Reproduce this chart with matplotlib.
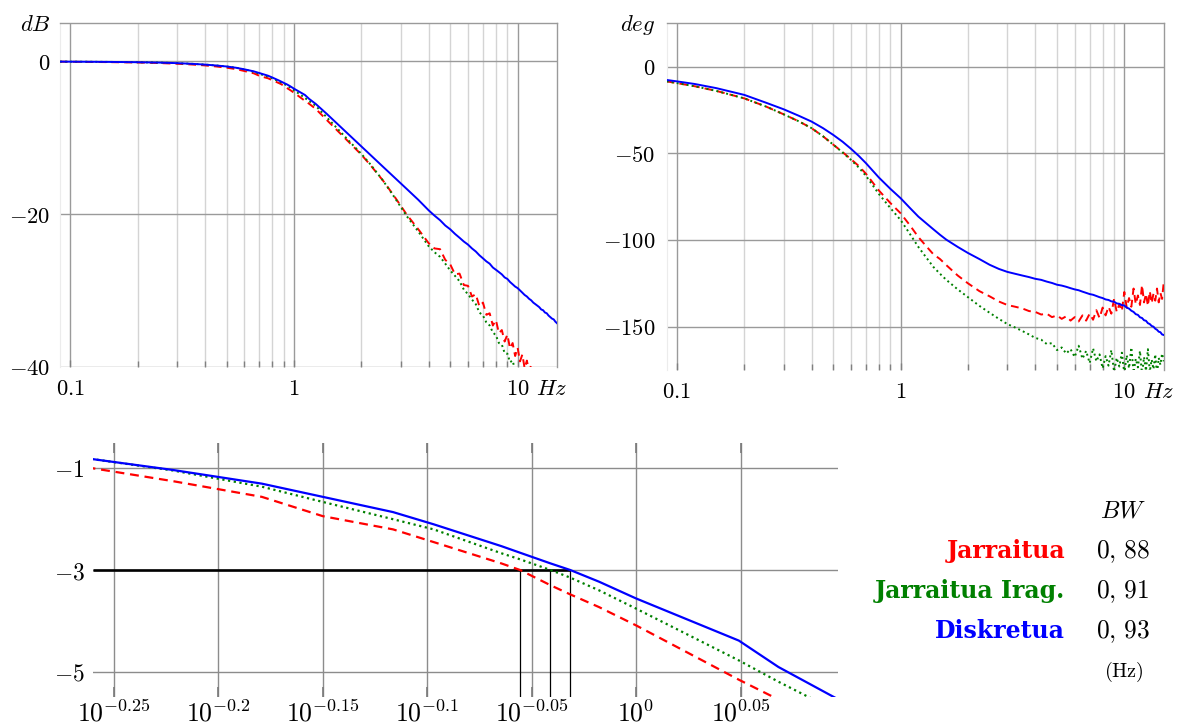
import numpy as np
import matplotlib
matplotlib.use("Agg")
import matplotlib.pyplot as plt
from matplotlib.ticker import FixedLocator, NullFormatter

plt.rcParams["mathtext.fontset"] = "cm"
plt.rcParams["font.family"] = ["DejaVu Serif"]

# ---------------- data ----------------
# magnitude response (dB) on a common frequency grid (Hz)
f_mag = [0.09, 0.1, 0.12, 0.15, 0.2, 0.25, 0.3, 0.35, 0.4, 0.45,
         0.5, 0.55, 0.6, 0.662, 0.708, 0.765, 0.8, 0.862, 0.88, 0.91,
         0.93, 0.96, 1.0, 1.12, 1.17, 1.25, 1.4, 1.6, 1.8, 2.0,
         2.2, 2.5, 2.8, 3.2, 3.6,
         4.0, 4.25, 4.5, 4.75, 5.0, 5.25, 5.5, 5.75, 6.0, 6.25,
         6.5, 6.75, 7.0, 7.25, 7.5, 7.75, 8.0, 8.25, 8.5, 8.75,
         9.0, 9.25, 9.5, 9.75, 10.0, 10.25, 10.5, 10.75, 11.0, 11.25,
         11.5, 11.75, 12.0, 12.25, 12.5, 12.75, 13.0, 13.25, 13.5, 13.75,
         14.0, 14.25, 14.5, 14.75, 15.0]

mag_jarraitua = [-0.03, -0.04, -0.06, -0.09, -0.14, -0.21, -0.30, -0.40, -0.52, -0.66,
                 -0.82, -1.00, -1.25, -1.56, -1.94, -2.20, -2.45, -2.87, -3.00, -3.30,
                 -3.48, -3.73, -4.09, -5.16, -5.55, -6.20, -7.65, -9.35, -10.85, -12.2,
                 -13.6, -15.6, -17.6, -20.1, -22.0,
                 -23.8, -24.5, -24.6, -26.0, -26.6, -27.9, -27.8, -29.3, -29.4, -30.8,
                 -30.5, -32.1, -31.6, -33.2, -33.0, -34.6, -33.9, -35.6, -35.2, -36.7,
                 -35.8, -37.6, -36.9, -38.6, -37.5, -39.3, -38.4, -40.2, -39.2, -40.6,
                 -39.8, -41.3, -40.4, -42.0, -41.6, -43.0, -42.5, -43.5, -43.0, -44.0,
                 -43.6, -44.5, -44.0, -45.0, -44.6]

mag_irag = [-0.02, -0.03, -0.04, -0.06, -0.10, -0.15, -0.22, -0.31, -0.41, -0.53,
            -0.66, -0.82, -1.04, -1.36, -1.66, -2.00, -2.20, -2.67, -2.79, -3.00,
            -3.15, -3.40, -3.76, -4.78, -5.20, -5.80, -7.30, -9.10, -10.7, -12.1,
            -13.5, -15.6, -17.7, -20.3, -22.3,
            -24.2, -25.0, -25.6, -26.5, -27.4, -28.1, -28.8, -29.9, -30.5, -31.2,
            -31.8, -32.9, -33.3, -34.2, -34.6, -35.5, -35.9, -36.9, -37.1, -38.2,
            -38.3, -39.4, -39.2, -40.5, -40.3, -41.5, -41.3, -42.5, -42.3, -43.4,
            -43.2, -44.3, -44.1, -45.2, -45.0, -46.0, -45.8, -46.7, -46.5, -47.3,
            -47.1, -48.0, -47.8, -48.5, -48.3]

mag_diskretua = [-0.02, -0.03, -0.04, -0.06, -0.10, -0.15, -0.22, -0.31, -0.41, -0.53,
                 -0.66, -0.82, -1.03, -1.30, -1.56, -1.86, -2.10, -2.53, -2.66, -2.87,
                 -3.00, -3.23, -3.56, -4.39, -4.91, -5.55, -6.85, -8.45, -9.86, -11.12,
                 -12.26, -13.79, -15.14, -16.73, -18.14,
                 -19.5, -20.2, -20.8, -21.5, -22.0, -22.6, -23.1, -23.6, -24.0, -24.5,
                 -24.9, -25.4, -25.8, -26.2, -26.5, -27.0, -27.3, -27.6, -27.9, -28.3,
                 -28.5, -28.9, -29.2, -29.5, -29.7, -30.0, -30.3, -30.6, -30.8, -31.1,
                 -31.3, -31.6, -31.8, -32.0, -32.2, -32.5, -32.6, -32.9, -33.0, -33.3,
                 -33.5, -33.7, -33.8, -34.1, -34.3]

# phase response (deg)
f_ph = [0.09, 0.1, 0.12, 0.15, 0.2, 0.25, 0.3, 0.35, 0.4, 0.45,
        0.5, 0.55, 0.6, 0.65, 0.7, 0.8, 0.9, 1.0, 1.1, 1.2,
        1.3, 1.4, 1.5, 1.6, 1.8, 2.0, 2.25, 2.5, 2.75, 3.0,
        3.25, 3.5, 3.75, 4.0, 4.25, 4.5, 4.75, 5.0, 5.25, 5.5,
        5.75, 6.0, 6.25, 6.5, 6.75, 7.0, 7.25, 7.5, 7.75, 8.0,
        8.25, 8.5, 8.75, 9.0, 9.25, 9.5, 9.75, 10.0, 10.25, 10.5,
        10.75, 11.0, 11.25, 11.5, 11.75, 12.0, 12.25, 12.5, 12.75, 13.0,
        13.25, 13.5, 13.75, 14.0, 14.25, 14.5, 14.75, 15.0]

ph_jarraitua = [-8.5, -9.5, -11.3, -14.0, -18.3, -23.0, -27.5, -31.5, -35.5, -40.2,
                -45.0, -49.3, -53.4, -57.3, -61.8, -71.5, -78.7, -84.6, -91.5, -98.3,
                -103.5, -108.2, -111.0, -114.5, -120.5, -125.0, -129.5, -132.5, -135.5, -137.5,
                -138.5, -139.5, -141.0, -141.5, -143.0, -142.5, -144.5, -143.5, -145.5, -144.0,
                -146.5, -144.5, -147.0, -143.5, -146.5, -142.5, -146.0, -140.5, -145.0, -139.0,
                -143.5, -138.5, -142.5, -134.0, -141.5, -137.0, -141.0, -130.0, -139.0, -133.5,
                -138.5, -128.0, -137.0, -132.0, -137.5, -126.0, -136.0, -131.0, -138.0, -129.5,
                -136.5, -131.0, -135.0, -128.0, -136.0, -130.5, -134.0, -124.5]

ph_irag = [-8.5, -9.5, -11.3, -14.0, -18.3, -23.0, -27.5, -31.5, -35.5, -40.2,
           -45.0, -49.5, -53.8, -58.2, -63.0, -73.5, -81.6, -88.5, -96.5, -104.0,
           -110.0, -115.5, -119.5, -123.0, -128.5, -133.0, -138.0, -142.0, -145.5, -148.5,
           -150.5, -152.5, -154.5, -156.5, -157.5, -160.0, -159.5, -163.5, -162.0, -165.5,
           -163.0, -167.5, -161.0, -168.5, -164.0, -171.0, -162.5, -170.0, -166.0, -174.0,
           -167.0, -172.5, -163.5, -176.0, -168.0, -173.0, -165.0, -177.0, -166.5, -174.0,
           -162.0, -176.5, -168.5, -173.5, -164.0, -178.0, -167.5, -175.5, -163.0, -176.0,
           -169.0, -174.5, -166.0, -177.5, -168.0, -172.0, -165.5, -170.0]

ph_diskretua = [-7.7, -8.5, -10.0, -12.4, -16.3, -20.8, -24.6, -28.3, -31.7, -35.5,
                -39.4, -43.3, -47.4, -51.5, -55.7, -64.0, -70.5, -75.9, -81.5, -86.5,
                -90.3, -93.8, -97.0, -99.8, -104.0, -107.5, -111.0, -114.3, -116.7, -118.4,
                -119.5, -120.5, -121.4, -122.4, -123.0, -124.0, -124.8, -125.8, -126.3, -127.0,
                -127.8, -128.5, -129.0, -129.8, -130.5, -131.2, -131.6, -132.3, -133.0, -133.5,
                -134.3, -134.6, -135.4, -135.6, -136.6, -136.8, -137.6, -137.8, -139.0, -139.6,
                -140.8, -141.5, -142.8, -143.2, -144.6, -145.0, -146.3, -146.6, -148.0, -148.5,
                -149.6, -150.0, -151.2, -151.8, -152.9, -153.2, -154.5, -154.8]

# bandwidths (Hz) at -3 dB
series_names = ["Jarraitua", "Jarraitua Irag.", "Diskretua"]
bandwidths = [0.88, 0.91, 0.93]
bw_level = -3.0

# tick values
mag_ticks = [0, -20, -40]
ph_ticks = [0, -50, -100, -150]
freq_ticks = [0.1, 1, 10]
freq_tick_labels = ["0.1", "1", "10"]
zoom_exps = ["-0.25", "-0.2", "-0.15", "-0.1", "-0.05", "0", "0.05"]
zoom_yticks = [-1, -3, -5]

# ---------------- style ----------------
RED, GREEN, BLUE = "#ff0000", "#008000", "#0000ff"
colors = [RED, GREEN, BLUE]
styles = [(0, (4.0, 2.6)), (0, (1.0, 1.6)), "-"]
MAJ, MINC = "#9a9a9a", "#d4d4d4"
FS = 16.3

W, H = 1181, 727
fig = plt.figure(figsize=(W / 100, H / 100), dpi=100)


def box(l, t, r, b):
    return [l / W, 1 - b / H, (r - l) / W, (b - t) / H]


ax_mag = fig.add_axes(box(60, 23.3, 557, 366.7))
ax_ph = fig.add_axes(box(666.7, 23.3, 1163.7, 370))
ax_z = fig.add_axes(box(93, 443, 838.5, 697))


def bode_axes(ax, yticks, ylim, ylabel, ypad):
    ax.set_xscale("log")
    ax.set_xlim(0.09, 15)
    ax.set_ylim(*ylim)
    ax.xaxis.set_major_locator(FixedLocator(freq_ticks))
    ax.set_xticklabels(["$%s$" % s for s in freq_tick_labels])
    minors = [m * d for d in (0.1, 1) for m in range(2, 10)]
    ax.xaxis.set_minor_locator(FixedLocator(minors))
    ax.xaxis.set_minor_formatter(NullFormatter())
    ax.set_yticks(yticks)
    ax.set_yticklabels(["$%d$" % v for v in yticks])
    ax.grid(which="major", color=MAJ, lw=1.0, zorder=0)
    ax.grid(which="minor", axis="x", color=MINC, lw=1.0, zorder=0)
    ax.set_axisbelow(True)
    ax.tick_params(axis="x", which="both", direction="in", color="#808080",
                   width=1.0, labelsize=FS, pad=8)
    ax.tick_params(axis="x", which="major", length=5)
    ax.tick_params(axis="x", which="minor", length=4)
    ax.tick_params(axis="y", length=0, labelsize=FS, pad=ypad)
    for side in ("top", "right"):
        ax.spines[side].set_color(MAJ)
        ax.spines[side].set_linewidth(1.0)
    ax.spines["left"].set_color("#ececec")
    ax.spines["bottom"].set_visible(False)
    ax.annotate("$%s$" % ylabel, xy=(0, 1), xycoords="axes fraction",
                xytext=(-ypad, -1), textcoords="offset points",
                ha="right", va="center", fontsize=FS)
    ax.annotate("$Hz$", xy=(0.99, 0), xycoords="axes fraction",
                xytext=(0, -8), textcoords="offset points",
                ha="center", va="top", fontsize=FS)


bode_axes(ax_mag, mag_ticks, (-40, 5), "dB", 7)
bode_axes(ax_ph, ph_ticks, (-175, 25), "deg", 8)

mags = [mag_jarraitua, mag_irag, mag_diskretua]
phs = [ph_jarraitua, ph_irag, ph_diskretua]
for m, p, c, ls in zip(mags, phs, colors, styles):
    ax_mag.plot(f_mag, m, color=c, ls=ls, lw=1.4, zorder=3)
    ax_ph.plot(f_ph, p, color=c, ls=ls, lw=1.4, zorder=3)

# zoom around the -3 dB crossing
ax_z.set_xscale("log")
ax_z.set_xlim(0.5496, 1.25)
ax_z.set_ylim(-5.5, -0.5)
zpos = [10 ** float(e) for e in zoom_exps]
ax_z.xaxis.set_major_locator(FixedLocator(zpos))
ax_z.set_xticklabels(["$10^{%s}$" % e for e in zoom_exps])
ax_z.xaxis.set_minor_locator(FixedLocator([]))
ax_z.set_yticks(zoom_yticks)
ax_z.set_yticklabels(["$%d$" % v for v in zoom_yticks])
ax_z.grid(which="major", color="#8c8c8c", lw=1.0, zorder=0)
ax_z.set_axisbelow(True)
for s in ax_z.spines.values():
    s.set_visible(False)
ax_z.tick_params(axis="x", direction="in", top=True, length=7, width=1.2,
                 color="#7a7a7a", labelsize=18.5, pad=2.5)
ax_z.tick_params(axis="y", length=0, labelsize=17, pad=6)

for m, c, ls in zip(mags, colors, styles):
    ax_z.plot(f_mag, m, color=c, ls=ls, lw=1.6, zorder=3)

ax_z.plot([0.5496, max(bandwidths)], [bw_level, bw_level], color="black",
          lw=1.9, zorder=2, solid_capstyle="butt")
for bw in bandwidths:
    ax_z.plot([bw, bw], [bw_level, -5.5], color="black", lw=0.9, zorder=2)


# bandwidth table
def px(x, y):
    return x / W, 1 - y / H


fig.text(*px(1123, 518), "$BW$", ha="center", va="baseline", fontsize=17.5)
rows_y = [558, 598, 638]
for name, bw, c, y in zip(series_names, bandwidths, colors, rows_y):
    fig.text(*px(1065, y), name, color=c, fontweight="bold",
             family="DejaVu Serif", ha="right", va="baseline", fontsize=17)
    txt = ("%.2f" % bw).replace(".", r",\,")
    fig.text(*px(1123, y), "$%s$" % txt, ha="center", va="baseline",
             fontsize=18.3)
fig.text(*px(1124, 677), r"$\mathrm{(Hz)}$", ha="center", va="baseline",
         fontsize=14.5)

fig.savefig("out.png", dpi=100)
